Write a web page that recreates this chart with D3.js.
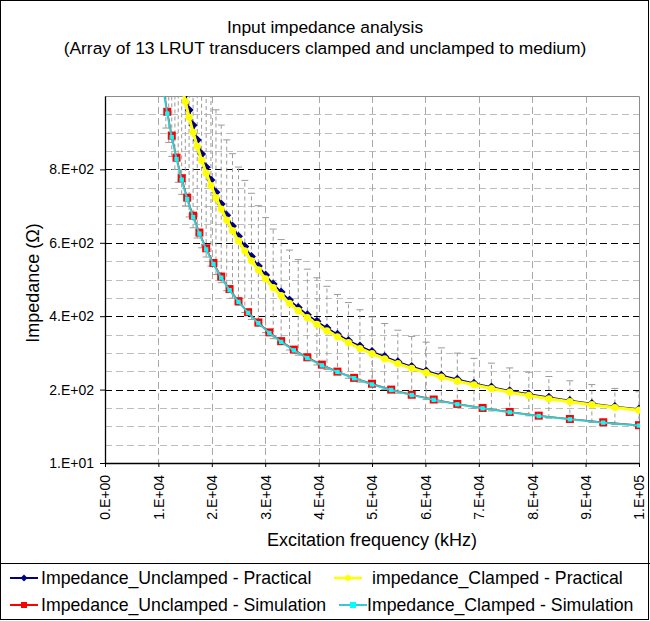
<!DOCTYPE html>
<html>
<head>
<meta charset="utf-8">
<script src="https://cdn.jsdelivr.net/npm/d3@7"></script>
<style>
body { margin: 0; background: #fff; }
text { font-family: "Liberation Sans", Arial, sans-serif; fill: #000; }
</style>
</head>
<body>
<div id="chart"></div>
<script>
// simulation points (1/10 octave steps), Hz
var simFreq = [10153, 10882, 11663, 12500, 13397, 14359, 15389, 16494, 17678, 18946, 20306, 21764, 23326, 25000, 26795, 28718, 30779, 32988, 35355, 37893, 40613, 43528, 46652, 50000, 53589, 57435, 61557, 65975, 70711, 75786, 81225, 87055, 93303, 100000];
var simUnclamped = [1111, 1037, 967, 902, 842, 786, 733, 684, 638, 595, 555, 518, 484, 451, 421, 393, 366, 342, 319, 298, 278, 259, 242, 226, 210, 196, 183, 171, 160, 149, 139, 130, 121, 113];
var simClamped = [1105, 1032, 962, 898, 838, 782, 729, 680, 635, 592, 552, 515, 481, 449, 419, 391, 364, 340, 317, 296, 276, 258, 241, 224, 209, 195, 182, 170, 159, 148, 138, 129, 120, 112];

// measured points (the first few lie above the axis maximum)
var pracFreq = [11397, 11936, 12500, 13091, 13710, 14359, 15038, 15749, 16494, 17274, 18091, 18946, 19843, 20781, 21764, 22793, 23871, 25000, 26183, 27421, 28718, 30076, 31498, 32988, 34548, 36182, 37893, 39685, 41562, 43528, 45586, 47742, 50000, 52365, 54841, 57435, 60151, 62996, 65975, 69096, 72363, 75786, 79370, 83124, 87055, 91172, 95484, 100000];
var pracUnclamped = [1318, 1262, 1208, 1157, 1107, 1060, 1015, 972, 930, 890, 852, 816, 781, 748, 716, 685, 656, 628, 600, 573, 547, 522, 498, 476, 454, 434, 414, 396, 378, 361, 344, 329, 314, 300, 286, 273, 261, 249, 238, 227, 217, 207, 198, 189, 180, 172, 164, 157];
var pracClamped = [1292, 1237, 1184, 1134, 1085, 1039, 995, 952, 911, 873, 835, 800, 766, 733, 702, 672, 643, 615, 588, 561, 536, 512, 488, 466, 445, 425, 406, 388, 370, 354, 338, 322, 308, 294, 281, 268, 256, 244, 233, 223, 213, 203, 194, 185, 177, 169, 161, 154];
var errorPercent = 30;

var xTicks = [0, 10000, 20000, 30000, 40000, 50000, 60000, 70000, 80000, 90000, 100000];
var yTicks = [10, 210, 410, 610, 810];
var seriesNames = ["Impedance_Unclamped - Practical", "impedance_Clamped - Practical", "Impedance_Unclamped - Simulation", "Impedance_Clamped - Simulation"];

var width = 650,
    height = 621,
    plotLeft = 105, plotRight = 639, plotTop = 96, plotBottom = 463;

// excel style "0.E+00"
function sci(v) {
  if (v === 0) return "0.E+00";
  var e = Math.floor(Math.log10(Math.abs(v)));
  var m = Math.round(v / Math.pow(10, e));
  if (m === 10) { m = 1; e++; }
  return m + ".E" + (e < 0 ? "-" : "+") + String(Math.abs(e)).padStart(2, "0");
}

var svg = d3.select("#chart").append("svg")
    .attr("width", width)
    .attr("height", height);

svg.append("rect")
    .attr("x", 0.5).attr("y", 0.5)
    .attr("width", width - 2).attr("height", height - 2)
    .attr("fill", "#fff")
    .attr("stroke", "#000");

var x = d3.scaleLinear().domain([0, 100000]).range([plotLeft, plotRight]);
var y = d3.scaleLinear().domain([10, 1010]).range([plotBottom, plotTop]);

// gridlines
var grid = svg.append("g");
var minor = d3.range(60, 1010, 50).filter(function(v) { return (v - 10) % 200 !== 0; });
grid.selectAll(".minor").data(minor).enter().append("line")
    .attr("x1", plotLeft).attr("x2", plotRight)
    .attr("y1", function(d) { return Math.round(y(d)) + 0.5; })
    .attr("y2", function(d) { return Math.round(y(d)) + 0.5; })
    .attr("stroke", "#bdbdbd")
    .attr("stroke-dasharray", "7,4");
grid.selectAll(".vgrid").data(xTicks.slice(1, -1)).enter().append("line")
    .attr("x1", function(d) { return Math.round(x(d)) + 0.5; })
    .attr("x2", function(d) { return Math.round(x(d)) + 0.5; })
    .attr("y1", plotTop).attr("y2", plotBottom)
    .attr("stroke", "#a8a8a8")
    .attr("stroke-dasharray", "7,4");
grid.selectAll(".major").data(yTicks.slice(1)).enter().append("line")
    .attr("x1", plotLeft).attr("x2", plotRight)
    .attr("y1", function(d) { return Math.round(y(d)) + 0.5; })
    .attr("y2", function(d) { return Math.round(y(d)) + 0.5; })
    .attr("stroke", "#000")
    .attr("stroke-dasharray", "7,4");

// plot area border
svg.append("path")
    .attr("d", "M" + plotLeft + "," + (plotTop + 0.5) + "H" + (plotRight + 0.5) + "V" + plotBottom)
    .attr("fill", "none")
    .attr("stroke", "#8c8c8c");

svg.append("clipPath").attr("id", "plotclip")
  .append("rect")
    .attr("x", plotLeft).attr("y", plotTop)
    .attr("width", plotRight - plotLeft + 1).attr("height", plotBottom - plotTop);

var plot = svg.append("g").attr("clip-path", "url(#plotclip)");

// +/- percentage error bars on the unclamped practical series
var errs = plot.append("g")
    .attr("stroke", "#9a9a9a");
pracFreq.forEach(function(f, i) {
  var v = pracUnclamped[i];
  var hi = v * (1 + errorPercent / 100),
      lo = v * (1 - errorPercent / 100);
  errs.append("line")
      .attr("x1", x(f)).attr("x2", x(f))
      .attr("y1", y(lo)).attr("y2", y(hi))
      .attr("stroke-dasharray", "4,3");
  [hi, lo].forEach(function(c) {
    errs.append("line")
        .attr("x1", x(f) - 3.5).attr("x2", x(f) + 3.5)
        .attr("y1", y(c)).attr("y2", y(c));
  });
});

var line = d3.line()
    .x(function(d) { return x(d[0]); })
    .y(function(d) { return y(d[1]); });

var blue = d3.zip(pracFreq, pracUnclamped),
    yellow = d3.zip(pracFreq, pracClamped),
    red = d3.zip(simFreq, simUnclamped),
    cyan = d3.zip(simFreq, simClamped);

var diamond = "M0,-4.5L4.5,0L0,4.5L-4.5,0Z";

// series 1
plot.append("path").datum(blue)
    .attr("d", line).attr("fill", "none")
    .attr("stroke", "#000080").attr("stroke-width", 1.6);
plot.selectAll(".dia").data(blue).enter().append("path")
    .attr("d", diamond)
    .attr("transform", function(d) { return "translate(" + x(d[0]) + "," + y(d[1]) + ")"; })
    .attr("fill", "#000080");

// series 2
plot.append("path").datum(yellow)
    .attr("d", line).attr("fill", "none")
    .attr("stroke", "#ffff00").attr("stroke-width", 3);
plot.selectAll(".dot").data(yellow).enter().append("circle")
    .attr("cx", function(d) { return x(d[0]); })
    .attr("cy", function(d) { return y(d[1]); })
    .attr("r", 3.6)
    .attr("fill", "#ffff00");

// series 3
plot.append("path").datum(red)
    .attr("d", line).attr("fill", "none")
    .attr("stroke", "#ff0000").attr("stroke-width", 1.5);
plot.selectAll(".sq").data(red).enter().append("rect")
    .attr("x", function(d) { return x(d[0]) - 4; })
    .attr("y", function(d) { return y(d[1]) - 4; })
    .attr("width", 8).attr("height", 8)
    .attr("fill", "#ff0000");

// series 4
plot.append("path").datum(cyan)
    .attr("d", line).attr("fill", "none")
    .attr("stroke", "#33cccc").attr("stroke-width", 2);
plot.selectAll(".sq2").data(cyan).enter().append("rect")
    .attr("x", function(d) { return x(d[0]) - 2.2; })
    .attr("y", function(d) { return y(d[1]) - 2.2; })
    .attr("width", 4.4).attr("height", 4.4)
    .attr("fill", "#00ffff");

// axes
var yAxis = svg.append("g")
    .attr("transform", "translate(" + plotLeft + ",0)")
    .call(d3.axisLeft(y).tickValues(yTicks).tickFormat(sci).tickSize(5).tickSizeOuter(0).tickPadding(6));
var xAxis = svg.append("g")
    .attr("transform", "translate(0," + plotBottom + ")")
    .call(d3.axisBottom(x).tickValues(xTicks).tickFormat(sci).tickSize(4).tickSizeOuter(0));
[yAxis, xAxis].forEach(function(a) {
  a.select(".domain").attr("stroke", "#000").attr("stroke-width", 1.3);
  a.selectAll("text").style("font-size", "14px").attr("fill", "#000");
});
xAxis.selectAll("text")
    .attr("transform", "rotate(-90)")
    .attr("text-anchor", "end")
    .attr("x", -12)
    .attr("y", 0)
    .attr("dy", "0.35em");

// titles
svg.append("text")
    .attr("x", 325).attr("y", 33)
    .attr("text-anchor", "middle")
    .style("font-size", "17.4px")
    .text("Input impedance analysis");
svg.append("text")
    .attr("x", 325).attr("y", 54)
    .attr("text-anchor", "middle")
    .style("font-size", "17.4px")
    .text("(Array of 13 LRUT transducers clamped and unclamped to medium)");
svg.append("text")
    .attr("transform", "translate(39,283) rotate(-90)")
    .attr("text-anchor", "middle")
    .style("font-size", "18px")
    .text("Impedance (\u03A9)");
svg.append("text")
    .attr("x", 372).attr("y", 546)
    .attr("text-anchor", "middle")
    .style("font-size", "18px")
    .text("Excitation frequency (kHz)");

// legend
svg.append("line")
    .attr("x1", 0).attr("x2", width)
    .attr("y1", 563.5).attr("y2", 563.5)
    .attr("stroke", "#000");

var legendPos = [[10, 578, 41], [334, 578, 372], [10, 605, 41], [339, 605, 367]];
var legendColor = ["#000080", "#ffff00", "#ff0000", "#33cccc"];
var leg = svg.selectAll(".leg").data(seriesNames).enter().append("g")
    .attr("transform", function(d, i) { return "translate(" + legendPos[i][0] + "," + legendPos[i][1] + ")"; });
leg.append("line")
    .attr("x1", 0).attr("x2", 28)
    .attr("stroke", function(d, i) { return legendColor[i]; })
    .attr("stroke-width", function(d, i) { return i === 1 ? 2.5 : 2; });
leg.append("path")
    .attr("transform", "translate(14,0)")
    .attr("d", function(d, i) {
      if (i === 0) return "M0,-3.5L3.5,0L0,3.5L-3.5,0Z";
      if (i === 1) return d3.symbol(d3.symbolCircle, 28)();
      return "M-3,-3H3V3H-3Z";
    })
    .attr("fill", function(d, i) { return i === 3 ? "#00ffff" : legendColor[i]; });
leg.append("text")
    .attr("x", function(d, i) { return legendPos[i][2] - legendPos[i][0]; })
    .attr("dy", "0.35em")
    .style("font-size", "17.7px")
    .text(function(d) { return d; });
</script>
</body>
</html>
